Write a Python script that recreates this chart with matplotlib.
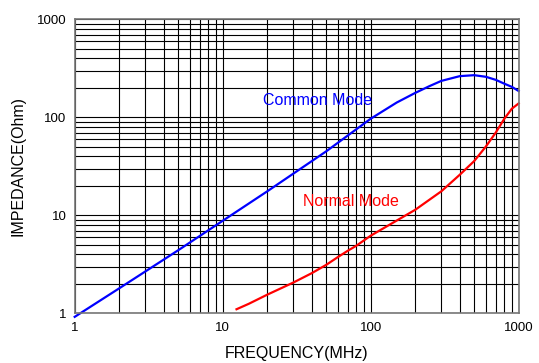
import matplotlib
matplotlib.use('Agg')
import matplotlib.pyplot as plt
from matplotlib.ticker import LogLocator, FixedLocator, FixedFormatter, NullFormatter

plt.rcParams['font.family'] = ['Liberation Sans', 'DejaVu Sans']

# 共模阻抗
common_freq = [1, 2, 5, 10, 20, 50, 100, 150, 200, 250, 300, 400, 500, 600, 700, 800, 900, 1000]
common_imp = [0.92, 1.8, 4.4, 8.8, 17.6, 45, 97, 142, 178, 209, 236, 264, 270, 260, 242, 221, 205, 186]

# 差模阻抗
normal_freq = [12.4, 15, 20, 30, 40, 50, 60, 70, 80, 100, 200, 300, 400, 500, 600, 700, 800, 900, 1000]
normal_imp = [1.1, 1.25, 1.55, 2.06, 2.57, 3.12, 3.75, 4.35, 4.9, 6.2, 11.4, 17.6, 26, 35.8, 50.4, 70, 97, 123, 139]

tick_vals = [1, 10, 100, 1000]
tick_labels = ['1', '10', '100', '1000']

fig = plt.figure(figsize=(5.39, 3.63), dpi=100)
ax = fig.add_axes([0.1386, 0.1369, 0.9623 - 0.1386, 0.9463 - 0.1369])

ax.plot(common_freq, common_imp, color='#0000ff', lw=1.6, clip_on=False)
ax.plot(normal_freq, normal_imp, color='#ff0000', lw=1.6, clip_on=False)

ax.set_xscale('log')
ax.set_yscale('log')
ax.set_xlim(1, 1000)
ax.set_ylim(1, 1000)

for axis in (ax.xaxis, ax.yaxis):
    axis.set_major_locator(FixedLocator(tick_vals))
    axis.set_major_formatter(FixedFormatter(tick_labels))
    axis.set_minor_locator(LogLocator(base=10, subs=range(2, 10)))
    axis.set_minor_formatter(NullFormatter())

ax.grid(True, which='both', color='black', lw=0.8)
ax.tick_params(which='both', length=0, labelsize=9.5, pad=6)
for s in ax.spines.values():
    s.set_color('#777777')
    s.set_linewidth(1.2)

ax.text(44, 150, 'Common Mode', color='#0000ff', fontsize=11.5, ha='center', va='center')
ax.text(73, 13.8, 'Normal Mode', color='#ff0000', fontsize=11.5, ha='center', va='center')

ax.set_xlabel('FREQUENCY(MHz)', fontsize=11.5, labelpad=9)
ax.set_ylabel('IMPEDANCE(Ohm)', fontsize=11.5, labelpad=8)

fig.savefig('out.png', dpi=100)
